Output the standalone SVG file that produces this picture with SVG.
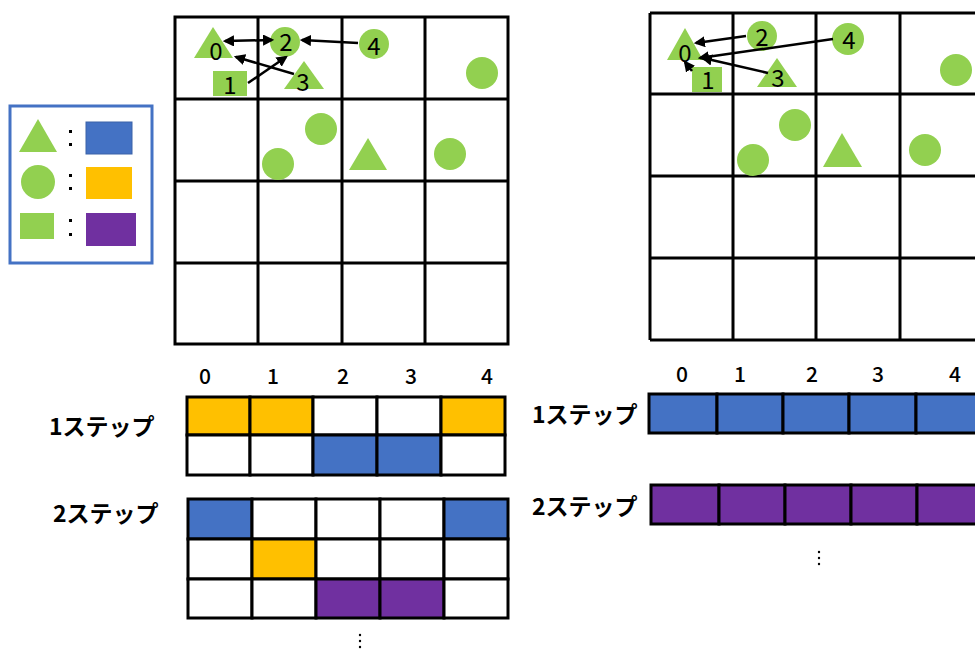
<svg xmlns="http://www.w3.org/2000/svg" width="975" height="652" viewBox="0 0 975 652">
<defs>
<style>
.g{fill:#92D050}
.grid{fill:none;stroke:#000;stroke-width:3}
.lbl{font-family:"Noto Sans CJK JP","Liberation Sans",sans-serif;font-size:24px;fill:#000;text-anchor:middle;dominant-baseline:central}
.col{font-family:"Noto Sans CJK JP","Liberation Sans",sans-serif;font-size:21px;fill:#000;text-anchor:middle;dominant-baseline:central;font-weight:500}
.step{font-family:"Noto Sans CJK JP","Liberation Sans",sans-serif;font-size:23px;fill:#000;font-weight:700;dominant-baseline:central}
.cell{stroke:#000;stroke-width:3}
.b{fill:#4472C4}.y{fill:#FFC000}.p{fill:#7030A0}.w{fill:#fff}
.arr{stroke:#000;stroke-width:2.5;fill:none;marker-end:url(#ah)}
</style>
<marker id="ah" viewBox="0 0 10 10" refX="8" refY="5" markerWidth="4.5" markerHeight="4.5" orient="auto-start-reverse" markerUnits="strokeWidth">
<path d="M0,0 L10,5 L0,10 z" fill="#000"/>
</marker>
</defs>
<rect width="975" height="652" fill="#fff"/>

<!-- Legend -->
<g id="legend">
<rect x="10" y="106" width="142" height="157" fill="#fff" stroke="#4472C4" stroke-width="3"/>
<polygon class="g" points="38,119 19,152 57,152"/>
<rect x="69" y="130" width="3" height="3"/><rect x="69" y="143" width="3" height="3"/>
<rect x="86" y="122" width="46" height="32" class="b" stroke="#3A62A8" stroke-width="1"/>
<circle class="g" cx="38" cy="182" r="17"/>
<rect x="69" y="174" width="3" height="3"/><rect x="69" y="187" width="3" height="3"/>
<rect x="86" y="167" width="46" height="32" class="y"/>
<rect class="g" x="20" y="213" width="34" height="26"/>
<rect x="69" y="219" width="3" height="3"/><rect x="69" y="233" width="3" height="3"/>
<rect x="86" y="213" width="50" height="33" class="p"/>
</g>

<!-- Left grid -->
<g id="grid-left">
<rect class="grid" x="175" y="17" width="333" height="327"/>
<path class="grid" d="M258,17V344M342,17V344M425,17V344M175,99H508M175,181H508M175,263H508"/>
<polygon class="g" points="213,27 194,58 233,58"/>
<circle class="g" cx="285" cy="42" r="15"/>
<circle class="g" cx="374" cy="44" r="15"/>
<rect class="g" x="213" y="71" width="34" height="25"/>
<polygon class="g" points="304,61 284,89 324,89"/>
<circle class="g" cx="482" cy="73" r="16"/>
<circle class="g" cx="321" cy="129" r="16"/>
<circle class="g" cx="278" cy="164" r="16"/>
<polygon class="g" points="368,138 349,170 387,170"/>
<circle class="g" cx="450" cy="154" r="16"/>
<text class="lbl" x="216" y="49">0</text>
<text class="lbl" x="230" y="83">1</text>
<text class="lbl" x="286" y="40">2</text>
<text class="lbl" x="303" y="80">3</text>
<text class="lbl" x="374" y="44">4</text>
</g>

<!-- Right grid -->
<g id="grid-right">
<path class="grid" d="M650,13H975M650,340V13M733,13V340M816,13V340M900,13V340M650,94H975M650,176H975M650,258H975M650,340H975"/>
<polygon class="g" points="685,28 667,60 703,60"/>
<circle class="g" cx="762" cy="36" r="15"/>
<circle class="g" cx="848" cy="39" r="16"/>
<rect class="g" x="692" y="67" width="30" height="25"/>
<polygon class="g" points="777,58 757,87 797,87"/>
<circle class="g" cx="956" cy="70" r="16"/>
<circle class="g" cx="795" cy="125" r="16"/>
<circle class="g" cx="753" cy="160" r="16"/>
<polygon class="g" points="842,133 823,167 862,167"/>
<circle class="g" cx="925" cy="150" r="16"/>
<text class="lbl" x="685" y="51">0</text>
<text class="lbl" x="708" y="78">1</text>
<text class="lbl" x="762" y="35">2</text>
<text class="lbl" x="778" y="76">3</text>
<text class="lbl" x="849" y="38">4</text>
</g>

<!-- Connectors -->
<g id="connectors">
<line class="arr" x1="272" y1="40" x2="225" y2="41" style="marker-start:url(#ah)"/>
<line class="arr" x1="358" y1="43" x2="302" y2="40"/>
<line class="arr" x1="294" y1="74" x2="236" y2="57"/>
<line class="arr" x1="248" y1="83" x2="286" y2="57"/>
<line class="arr" x1="746" y1="36" x2="696" y2="43"/>
<line class="arr" x1="833" y1="39" x2="700" y2="58"/>
<line class="arr" x1="768" y1="73" x2="703" y2="58"/>
<line class="arr" x1="692" y1="71" x2="685" y2="62"/>
</g>

<!-- Bottom left tables -->
<g id="table-left">
<text class="col" x="205" y="375">0</text>
<text class="col" x="273" y="375">1</text>
<text class="col" x="343" y="375">2</text>
<text class="col" x="411" y="375">3</text>
<text class="col" x="487" y="375">4</text>
<text class="step" x="49" y="425">1ステップ</text>
<text class="step" x="53" y="512">2ステップ</text>
<rect class="cell y" x="187" y="397" width="63" height="38"/>
<rect class="cell y" x="250" y="397" width="63" height="38"/>
<rect class="cell w" x="313" y="397" width="64" height="38"/>
<rect class="cell w" x="377" y="397" width="64" height="38"/>
<rect class="cell y" x="441" y="397" width="64" height="38"/>
<rect class="cell w" x="187" y="435" width="63" height="40"/>
<rect class="cell w" x="250" y="435" width="63" height="40"/>
<rect class="cell b" x="313" y="435" width="64" height="40"/>
<rect class="cell b" x="377" y="435" width="64" height="40"/>
<rect class="cell w" x="441" y="435" width="64" height="40"/>

<rect class="cell b" x="188" y="499" width="64" height="40"/>
<rect class="cell w" x="252" y="499" width="64" height="40"/>
<rect class="cell w" x="316" y="499" width="64" height="40"/>
<rect class="cell w" x="380" y="499" width="64" height="40"/>
<rect class="cell b" x="444" y="499" width="64" height="40"/>
<rect class="cell w" x="188" y="539" width="64" height="40"/>
<rect class="cell y" x="252" y="539" width="64" height="40"/>
<rect class="cell w" x="316" y="539" width="64" height="40"/>
<rect class="cell w" x="380" y="539" width="64" height="40"/>
<rect class="cell w" x="444" y="539" width="64" height="40"/>
<rect class="cell w" x="188" y="579" width="64" height="39"/>
<rect class="cell w" x="252" y="579" width="64" height="39"/>
<rect class="cell p" x="316" y="579" width="64" height="39"/>
<rect class="cell p" x="380" y="579" width="64" height="39"/>
<rect class="cell w" x="444" y="579" width="64" height="39"/>
<circle cx="360" cy="635" r="1.2"/><circle cx="360" cy="641" r="1.2"/><circle cx="360" cy="647" r="1.2"/>
</g>

<!-- Bottom right tables -->
<g id="table-right">
<text class="col" x="682" y="373">0</text>
<text class="col" x="740" y="373">1</text>
<text class="col" x="812" y="373">2</text>
<text class="col" x="878" y="373">3</text>
<text class="col" x="955" y="373">4</text>
<text class="step" x="532" y="413">1ステップ</text>
<text class="step" x="532" y="505">2ステップ</text>
<rect class="cell b" x="649" y="394" width="68" height="39"/>
<rect class="cell b" x="717" y="394" width="66" height="39"/>
<rect class="cell b" x="783" y="394" width="66" height="39"/>
<rect class="cell b" x="849" y="394" width="67" height="39"/>
<rect class="cell b" x="916" y="394" width="66" height="39"/>
<rect class="cell p" x="651" y="485" width="68" height="39"/>
<rect class="cell p" x="719" y="485" width="66" height="39"/>
<rect class="cell p" x="785" y="485" width="66" height="39"/>
<rect class="cell p" x="851" y="485" width="66" height="39"/>
<rect class="cell p" x="917" y="485" width="66" height="39"/>
<circle cx="819" cy="552" r="1.2"/><circle cx="819" cy="558" r="1.2"/><circle cx="819" cy="564" r="1.2"/>
</g>
</svg>
